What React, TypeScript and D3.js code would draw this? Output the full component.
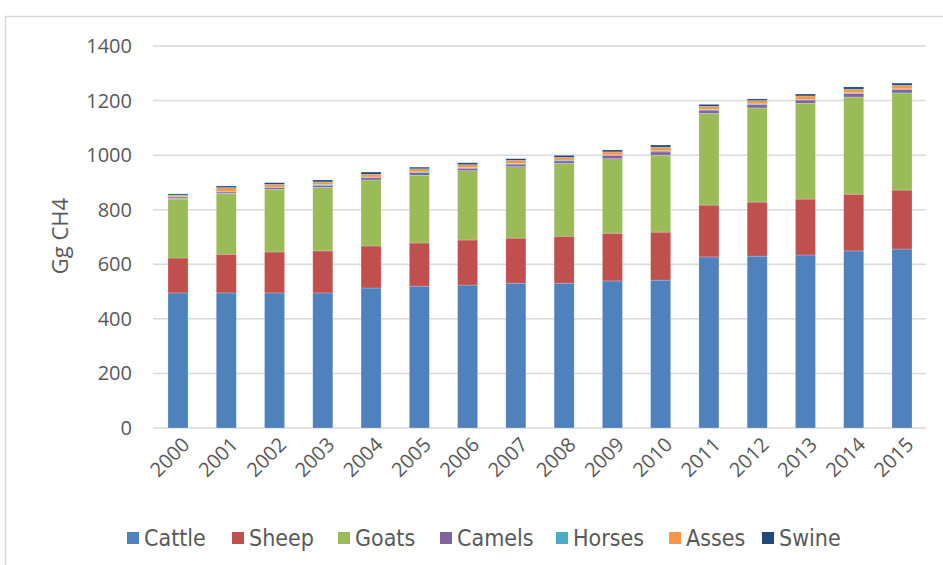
import React, { useEffect, useRef } from 'react';
import * as d3 from 'd3';

const years = ['2000', '2001', '2002', '2003', '2004', '2005', '2006', '2007', '2008', '2009', '2010', '2011', '2012', '2013', '2014', '2015'];
const species = ['Cattle', 'Sheep', 'Goats', 'Camels', 'Horses', 'Asses', 'Swine'];
const colors = ['#4F81BD', '#C0504D', '#9BBB59', '#8064A2', '#4BACC6', '#F79646', '#1F497D'];

const cattle = [495, 495, 495, 495, 513, 520, 524, 531, 531, 539, 542, 627, 630, 634, 649, 656];
const sheep = [128, 142, 150, 154, 154, 158, 165, 165, 172, 175, 176, 190, 198, 205, 208, 216];
const goats = [216, 223, 230, 233, 242, 248, 254, 262, 267, 273, 282, 336, 345, 351, 356, 356];
const camels = [3, 5, 6, 6, 8, 10, 9, 9, 9, 11, 12, 12, 12, 12, 13, 12];
const horses = [6, 3, 2, 5, 3, 3, 3, 3, 3, 3, 4, 3, 3, 3, 3, 3];
const asses = [6, 13, 10, 9, 10, 11, 10, 11, 10, 11, 13, 11, 12, 12, 13, 13];
const swine = [4, 6, 6, 7, 8, 6, 7, 6, 7, 7, 8, 7, 6, 7, 8, 8];

const yTicks = [0, 200, 400, 600, 800, 1000, 1200, 1400];

const W = 943;
const H = 565;

const App = () => {
  const ref = useRef<SVGSVGElement>(null);

  useEffect(() => {
    const svg = d3.select(ref.current);
    svg.selectAll('*').remove();

    const series = [cattle, sheep, goats, camels, horses, asses, swine];
    const rows = years.map((yr, i) => {
      const r: any = { year: yr };
      species.forEach((s, k) => (r[s] = series[k][i]));
      return r;
    });

    const x = d3.scaleBand().domain(years).range([154, 926]).paddingInner(0.585).paddingOuter(0.29);
    const y = d3.scaleLinear().domain([0, 1400]).range([428, 46]);
    const color = d3.scaleOrdinal<string>().domain(species).range(colors);

    // outer frame
    svg.append('rect')
      .attr('x', 5.5).attr('y', 16.5)
      .attr('width', W).attr('height', H)
      .attr('fill', 'none').attr('stroke', '#d9d9d9').attr('stroke-width', 1.5);

    // grid
    svg.append('g')
      .selectAll('line')
      .data(yTicks)
      .join('line')
      .attr('x1', 153).attr('x2', 926)
      .attr('y1', d => y(d)).attr('y2', d => y(d))
      .attr('stroke', '#d9d9d9').attr('stroke-width', 1.5);

    svg.append('g')
      .selectAll('text')
      .data(yTicks)
      .join('text')
      .attr('x', 132).attr('y', d => y(d))
      .attr('dy', '0.35em')
      .attr('text-anchor', 'end')
      .attr('font-family', 'Open Sans, sans-serif')
      .attr('font-size', 20)
      .attr('fill', '#595959')
      .text(d => d);

    svg.append('text')
      .attr('transform', `translate(68,236) rotate(-90)`)
      .attr('text-anchor', 'middle')
      .attr('font-family', 'Open Sans, sans-serif')
      .attr('font-size', 22)
      .attr('fill', '#595959')
      .text('Gg CH4');

    const stack = d3.stack().keys(species)(rows);

    svg.append('g')
      .selectAll('g')
      .data(stack)
      .join('g')
      .attr('fill', d => color(d.key))
      .selectAll('rect')
      .data(d => d)
      .join('rect')
      .attr('x', d => x((d.data as any).year)!)
      .attr('width', x.bandwidth())
      .attr('y', d => y(d[1]))
      .attr('height', d => y(d[0]) - y(d[1]))
      .attr('stroke', '#ffffff')
      .attr('stroke-opacity', 0.35)
      .attr('stroke-width', 0.6);

    // x labels
    svg.append('g')
      .selectAll('text')
      .data(years)
      .join('text')
      .attr('transform', d => `translate(${x(d)! + x.bandwidth() / 2 + 8},${441}) rotate(-45)`)
      .attr('text-anchor', 'end')
      .attr('dy', '0.35em')
      .attr('font-family', 'Open Sans, sans-serif')
      .attr('font-size', 20)
      .attr('fill', '#595959')
      .text(d => d);

    // legend
    const legendX = [127, 232, 338, 440, 556, 669, 762];
    const lg = svg.append('g')
      .selectAll('g')
      .data(species)
      .join('g')
      .attr('transform', (d, i) => `translate(${legendX[i]},538)`);
    lg.append('rect')
      .attr('x', 0).attr('y', -6)
      .attr('width', 12).attr('height', 12)
      .attr('fill', d => color(d));
    lg.append('text')
      .attr('x', 17).attr('y', 0)
      .attr('dy', '0.35em')
      .attr('font-family', 'Liberation Sans Narrow, DejaVu Sans Condensed, sans-serif')
      .attr('font-size', 23)
      .attr('fill', '#595959')
      .text(d => d);
  }, []);

  return (
    <div style={{ position: 'absolute', left: 0, top: 0 }}>
      <svg ref={ref} width={W} height={H} style={{ display: 'block', background: '#fff' }}></svg>
    </div>
  );
};

export default App;
